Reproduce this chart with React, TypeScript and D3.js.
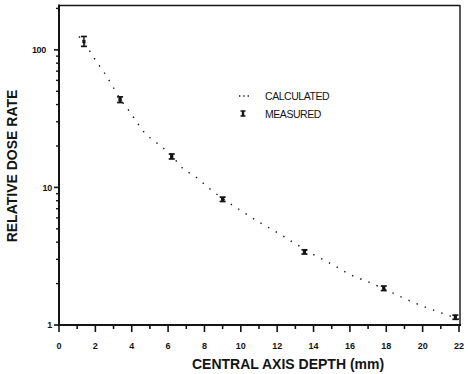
import { useEffect, useRef } from 'react';
import * as d3 from 'd3';

// measured points (mm, relative dose rate, error low/high)
const measuredDepth = [1.37, 3.36, 6.2, 9.0, 13.5, 17.86, 21.8];
const measuredDose = [115, 43.4, 16.8, 8.2, 3.4, 1.85, 1.14];
const measuredLow = [106, 41.4, 16.1, 7.9, 3.28, 1.78, 1.1];
const measuredHigh = [125, 45.5, 17.5, 8.5, 3.52, 1.92, 1.18];

// calculated curve
const calcDepth = [1.1, 1.7, 2.13, 2.5, 3.0, 3.36, 3.87, 4.27, 4.7, 5.26, 6.2, 6.82, 7.5, 8.2, 9.0, 10, 11, 12, 13, 14, 15, 16, 17, 18, 19, 20, 21, 22];
const calcDose = [125, 97.5, 79.6, 68, 53, 44, 35.8, 30, 25, 21.7, 17, 13.7, 12, 10, 8.3, 6.8, 5.6, 4.7, 3.9, 3.25, 2.77, 2.33, 2.06, 1.8, 1.56, 1.37, 1.23, 1.1];

const xTicks = [0, 2, 4, 6, 8, 10, 12, 14, 16, 18, 20, 22];
const yTicks = [1, 10, 100];

const W = 468;
const H = 374;
const FONT = '"Liberation Sans", Arial, Helvetica, sans-serif';

const App = () => {
  const svgRef = useRef<SVGSVGElement | null>(null);

  useEffect(() => {
    const svg = d3.select(svgRef.current);
    svg.selectAll('*').remove();

    const x = d3.scaleLinear().domain([0, 22]).range([59, 459]);
    const y = d3.scaleLog().domain([1, 210]).range([325, 5.5]);
    const ink = '#141414';

    const g = svg.append('g');

    // frame: top and right thinner
    g.append('line').attr('x1', 59).attr('x2', 460).attr('y1', 5.5).attr('y2', 5.5)
      .attr('stroke', ink).attr('stroke-width', 1.4);
    g.append('line').attr('x1', 460).attr('x2', 460).attr('y1', 5).attr('y2', 325)
      .attr('stroke', ink).attr('stroke-width', 1.4);

    // x axis
    const xAxis = g.append('g').attr('transform', 'translate(0,325)');
    xAxis.append('line').attr('x1', 58).attr('x2', 461).attr('stroke', ink).attr('stroke-width', 2);
    d3.range(0, 23).forEach((v) => {
      const major = v % 2 === 0;
      xAxis.append('line')
        .attr('x1', x(v)).attr('x2', x(v)).attr('y1', 0).attr('y2', major ? 7 : 4)
        .attr('stroke', ink).attr('stroke-width', 1.6);
    });
    xAxis.selectAll('text.tl')
      .data(xTicks)
      .enter()
      .append('text')
      .attr('class', 'tl')
      .attr('x', (d) => x(d))
      .attr('y', 24)
      .attr('text-anchor', 'middle')
      .attr('font-family', FONT)
      .attr('font-size', 9)
      .attr('font-weight', 'bold')
      .attr('fill', ink)
      .text((d) => d);

    // y axis
    const yAxis = g.append('g').attr('transform', 'translate(59,0)');
    yAxis.append('line').attr('y1', 4.5).attr('y2', 326).attr('stroke', ink).attr('stroke-width', 2);
    const minor: number[] = [];
    [1, 10, 100].forEach((dec) => {
      for (let k = 2; k <= 9; k++) {
        if (dec * k <= 210) minor.push(dec * k);
      }
    });
    yAxis.selectAll('line.minor')
      .data(minor)
      .enter()
      .append('line')
      .attr('class', 'minor')
      .attr('x1', -3).attr('x2', 0)
      .attr('y1', (d) => y(d)).attr('y2', (d) => y(d))
      .attr('stroke', ink).attr('stroke-width', 1.4);
    yAxis.selectAll('line.major')
      .data(yTicks)
      .enter()
      .append('line')
      .attr('class', 'major')
      .attr('x1', -5).attr('x2', 0)
      .attr('y1', (d) => y(d)).attr('y2', (d) => y(d))
      .attr('stroke', ink).attr('stroke-width', 1.6);
    yAxis.selectAll('text')
      .data(yTicks)
      .enter()
      .append('text')
      .attr('x', (d) => (d === 100 ? -13 : -7))
      .attr('y', (d) => y(d) + 3.2)
      .attr('text-anchor', 'end')
      .attr('font-family', FONT)
      .attr('font-size', 9)
      .attr('font-weight', 'bold')
      .attr('letter-spacing', -0.3)
      .attr('fill', ink)
      .text((d) => d);

    // calculated curve, dotted
    const line = d3.line<number>()
      .x((d, i) => x(calcDepth[i]))
      .y((d) => y(d))
      .curve(d3.curveMonotoneX);
    g.append('path')
      .attr('d', line(calcDose))
      .attr('fill', 'none')
      .attr('stroke', ink)
      .attr('stroke-width', 1.4)
      .attr('stroke-dasharray', '1.4 7.4');

    // measured points with error bars
    const pts = g.selectAll('g.pt')
      .data(measuredDose)
      .enter()
      .append('g')
      .attr('class', 'pt')
      .attr('transform', (d, i) => `translate(${x(measuredDepth[i])},0)`);
    pts.append('line')
      .attr('y1', (d, i) => y(measuredLow[i]))
      .attr('y2', (d, i) => y(measuredHigh[i]))
      .attr('stroke', ink)
      .attr('stroke-width', (d, i) => (i === 0 ? 1.4 : 2.6));
    pts.append('line')
      .attr('x1', -3).attr('x2', 3)
      .attr('y1', (d, i) => y(measuredLow[i])).attr('y2', (d, i) => y(measuredLow[i]))
      .attr('stroke', ink).attr('stroke-width', 1.7);
    pts.append('line')
      .attr('x1', -3).attr('x2', 3)
      .attr('y1', (d, i) => y(measuredHigh[i])).attr('y2', (d, i) => y(measuredHigh[i]))
      .attr('stroke', ink).attr('stroke-width', 1.7);
    pts.append('rect')
      .attr('x', -1.6).attr('width', 3.2)
      .attr('y', (d) => y(d) - 1.6).attr('height', 3.2)
      .attr('fill', ink);

    // legend
    const leg = g.append('g');
    leg.append('line')
      .attr('x1', 239).attr('x2', 249).attr('y1', 96).attr('y2', 96)
      .attr('stroke', ink).attr('stroke-width', 1.3)
      .attr('stroke-dasharray', '1.3 3');
    leg.append('line').attr('x1', 243).attr('x2', 243).attr('y1', 111).attr('y2', 116)
      .attr('stroke', ink).attr('stroke-width', 2.4);
    leg.append('line').attr('x1', 240.5).attr('x2', 245.5).attr('y1', 111).attr('y2', 111)
      .attr('stroke', ink).attr('stroke-width', 1.5);
    leg.append('line').attr('x1', 240.5).attr('x2', 245.5).attr('y1', 116).attr('y2', 116)
      .attr('stroke', ink).attr('stroke-width', 1.5);
    [['CALCULATED', 99.5], ['MEASURED', 118]].forEach(([t, yy]) => {
      leg.append('text')
        .attr('x', 265).attr('y', yy as number)
        .attr('font-family', FONT)
        .attr('font-size', 10.5)
        .attr('letter-spacing', -0.45)
        .attr('fill', ink)
        .text(t as string);
    });

    // axis titles
    g.append('text')
      .attr('x', 192).attr('y', 369)
      .attr('font-family', FONT)
      .attr('font-size', 14)
      .attr('font-weight', 'bold')
      .attr('fill', ink)
      .text('CENTRAL AXIS DEPTH (mm)');
    g.append('text')
      .attr('transform', 'translate(17,166) rotate(-90)')
      .attr('text-anchor', 'middle')
      .attr('font-family', FONT)
      .attr('font-size', 14)
      .attr('font-weight', 'bold')
      .attr('fill', ink)
      .text('RELATIVE DOSE RATE');
  }, []);

  return (
    <svg
      ref={svgRef}
      width={W}
      height={H}
      style={{ position: 'fixed', left: 0, top: 0, background: '#fff' }}
    />
  );
};

export default App;
